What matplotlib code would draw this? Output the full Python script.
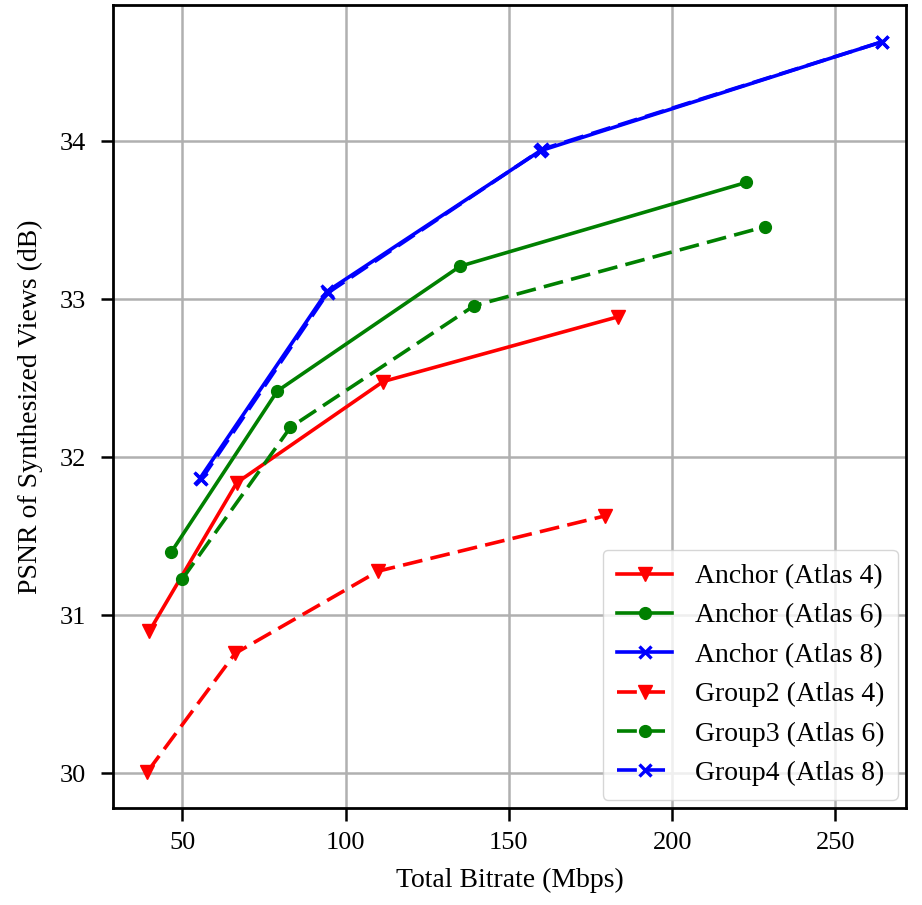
import matplotlib
matplotlib.use("Agg")
import matplotlib.pyplot as plt

plt.rcParams['font.family'] = ['Liberation Serif', 'DejaVu Serif']

# bitrate (Mbps) and PSNR (dB) per configuration
anchor4_rate = [39.9, 66.7, 111.5, 183.5]
anchor4_psnr = [30.90, 31.84, 32.48, 32.89]
anchor6_rate = [46.6, 79.1, 135.1, 222.7]
anchor6_psnr = [31.40, 32.42, 33.21, 33.74]
anchor8_rate = [55.5, 94.3, 159.6, 264.3]
anchor8_psnr = [31.87, 33.05, 33.94, 34.63]
group2_rate = [39.3, 66.2, 110.0, 179.5]
group2_psnr = [30.01, 30.76, 31.28, 31.63]
group3_rate = [50.0, 83.1, 139.4, 228.5]
group3_psnr = [31.23, 32.19, 32.96, 33.46]
group4_rate = [55.8, 94.5, 160.2, 264.3]
group4_psnr = [31.86, 33.04, 33.95, 34.63]

fig, ax = plt.subplots(figsize=(9.22, 9.05), dpi=100)

lw = 2.6
dash = (0, (5.5, 2.3))
ax.plot(anchor4_rate, anchor4_psnr, color='red', marker='v', ms=10, lw=lw, label='Anchor (Atlas 4)')
ax.plot(anchor6_rate, anchor6_psnr, color='green', marker='o', ms=8.5, lw=lw, label='Anchor (Atlas 6)')
ax.plot(anchor8_rate, anchor8_psnr, color='blue', marker='x', ms=9, mew=2.4, lw=lw, label='Anchor (Atlas 8)')
ax.plot(group2_rate, group2_psnr, color='red', marker='v', ms=10, lw=lw, ls=dash, label='Group2 (Atlas 4)')
ax.plot(group3_rate, group3_psnr, color='green', marker='o', ms=8.5, lw=lw, ls=dash, label='Group3 (Atlas 6)')
ax.plot(group4_rate, group4_psnr, color='blue', marker='x', ms=9, mew=2.4, lw=lw, ls=dash, label='Group4 (Atlas 8)')

ax.set_xlim(28.9, 271.7)
ax.set_ylim(29.78, 34.86)
ax.set_xticks([50, 100, 150, 200, 250])
ax.set_yticks([30, 31, 32, 33, 34])
ax.grid(True, color='#b0b0b0', lw=1.8)
ax.tick_params(labelsize=19, width=1.8, length=9)
ax.tick_params(axis='x', pad=8)
ax.tick_params(axis='y', pad=11)
for s in ax.spines.values():
    s.set_linewidth(2)

ax.set_xlabel('Total Bitrate (Mbps)', fontsize=20, labelpad=10)
ax.set_ylabel('PSNR of Synthesized Views (dB)', fontsize=20, labelpad=12)
ax.legend(loc='lower right', fontsize=20, borderaxespad=0.3, borderpad=0.5)

fig.subplots_adjust(left=0.123, right=0.983, top=0.994, bottom=0.107)
fig.savefig('out.png', dpi=100)
